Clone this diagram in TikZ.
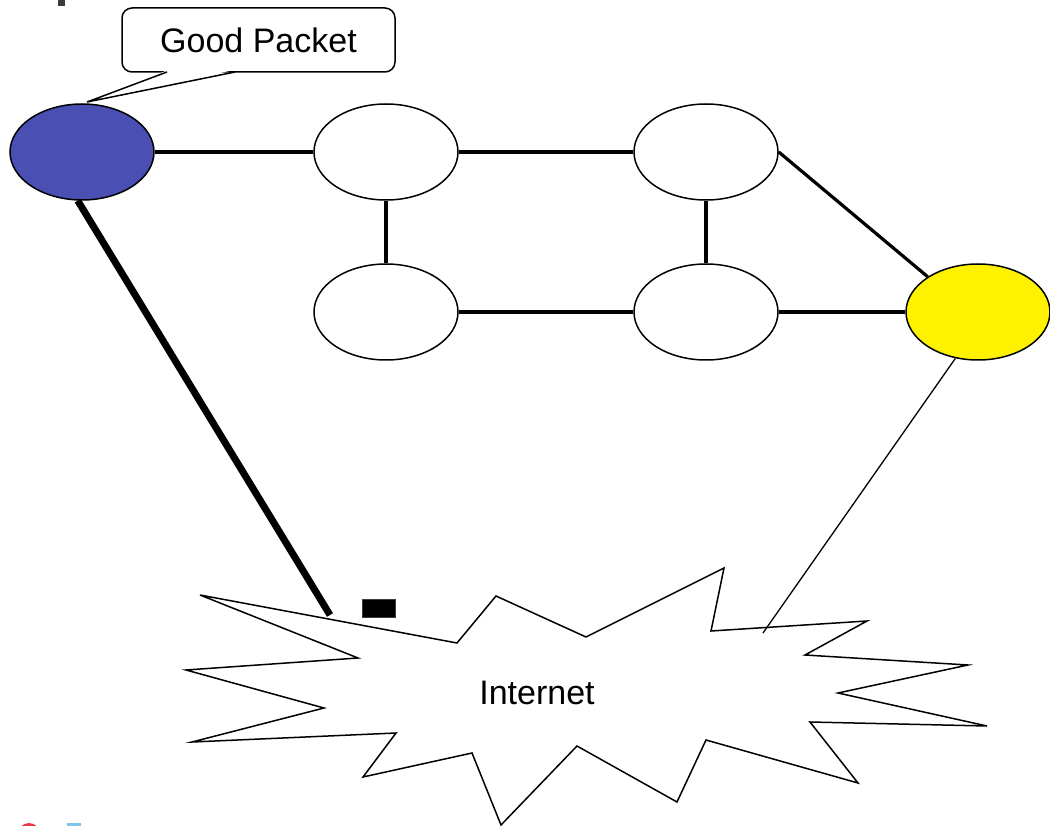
\documentclass[tikz,border=0pt]{standalone}
\usepackage{fontspec}
\setmainfont{Liberation Sans}
\usetikzlibrary{shapes.geometric}
\definecolor{hostblue}{RGB}{74,79,180}
\definecolor{markgray}{RGB}{60,60,60}
\definecolor{iconred}{RGB}{232,60,70}
\definecolor{iconblue}{RGB}{130,195,235}
\tikzset{
  router/.style={ellipse, draw, line width=1.5pt, fill=white, inner sep=0pt,
                 minimum width=144pt, minimum height=96pt},
  link/.style={line width=3.2pt},
  labelfont/.style={font=\fontsize{34}{40}\selectfont},
}
\begin{document}
\begin{tikzpicture}[x=1pt, y=-1pt]
\useasboundingbox (0,0) rectangle (1050,826);

% small marks at the page edges
\fill[markgray] (58,0) rectangle (65,6);
\fill[iconred] (29,834) circle (11);
\fill[iconblue] (67,823) rectangle (81,826);

% routers and hosts
\node[router, fill=hostblue] (src) at (82,152) {};
\node[router] (r1) at (386,152) {};
\node[router] (r2) at (706,152) {};
\node[router] (r3) at (386,312) {};
\node[router] (r4) at (706,312) {};
\node[router, fill=yellow] (dst) at (978,312) {};

% links inside the network
\draw[link] (src.east) -- (r1.west);
\draw[link] (r1.east) -- (r2.west);
\draw[link] (r1.south) -- (r3.north);
\draw[link] (r2.south) -- (r4.north);
\draw[link] (r3.east) -- (r4.west);
\draw[link] (r4.east) -- (dst.west);
\draw[link] (r2.east) -- (dst.145);

% the Internet cloud
\draw[line width=1.5pt, line join=miter, fill=white]
  (200,595) -- (457,643) -- (496,596) -- (586,637) -- (724,568) -- (711,631)
  -- (867,621) -- (805,655) -- (968,665) -- (838,693) -- (987,726) -- (810,722)
  -- (858,783) -- (706,740) -- (677,802) -- (577,746) -- (501,825) -- (472,753)
  -- (363,777) -- (396,733) -- (192,742) -- (324,708) -- (186,670) -- (358,658)
  -- cycle;
\node[labelfont] (inet) at (537,693) {Internet};

% access links to the cloud
\coordinate (srcend) at (330,615);
\coordinate (dstend) at (763,633);
\draw[line width=7pt] (src.-95) -- (srcend);
\draw[line width=1.3pt] (dst.-116) -- (dstend);

% the packet on its way
\node[draw=markgray, line width=0.8pt, fill=black, inner sep=0pt,
      minimum width=33pt, minimum height=18pt] (pkt) at (378.5,608) {};

% callout
\node[draw, line width=1.5pt, rounded corners=10pt, fill=white, labelfont,
      minimum width=273pt, minimum height=64pt] (callout) at (258.5,40) {Good Packet};
\coordinate (tip) at (87,102);
\fill[white] (168,70) -- (tip) -- (234,70) -- cycle;
\draw[line width=1.5pt, line join=miter] (167,72) -- (tip) -- (235,72);
\end{tikzpicture}
\end{document}
